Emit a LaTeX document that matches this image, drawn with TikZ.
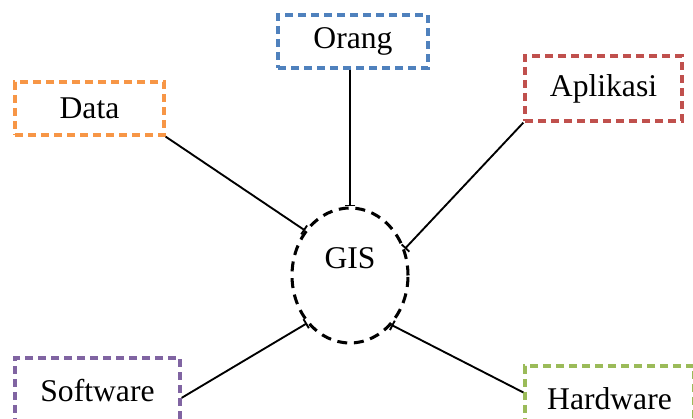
\documentclass[tikz,border=0pt]{standalone}
\usepackage{fontspec}
\setmainfont{Liberation Serif}
\usepackage{tikz}
\usetikzlibrary{shapes.geometric, arrows.meta}
\definecolor{orangB}{HTML}{4F81BD}
\definecolor{dataO}{HTML}{F79646}
\definecolor{aplR}{HTML}{C0504D}
\definecolor{softP}{HTML}{8064A2}
\definecolor{hardG}{HTML}{9BBB59}

\begin{document}
\begin{tikzpicture}[font=\fontsize{27}{32}\selectfont,
  compbox/.style={draw=#1, rectangle, line width=2.8pt,
    dash pattern=on 0.24cm off 0.15cm, inner sep=0pt},
  gisnode/.style={draw, ellipse, line width=2.6pt,
    dash pattern=on 0.3cm off 0.2cm, minimum width=3.48cm,
    minimum height=4.05cm, inner sep=0pt},
  link/.style={line width=1.6pt, -{Bar[width=9pt,line width=1.6pt]}}]
  \useasboundingbox (0,0) rectangle (20.79,12.57);
  % centre
  \node[gisnode] (gis) at (10.5,4.305) {};
  \node (gistext) at ([yshift=0.52cm]gis.center) {GIS};
  % components
  \node[compbox=orangB, minimum width=4.5cm, minimum height=1.59cm]
    (orang) at (10.59,11.325) {\raisebox{-2pt}{Orang}};
  \node[compbox=dataO, minimum width=4.47cm, minimum height=1.59cm]
    (data) at (2.685,9.315) {\raisebox{-2pt}{Data}};
  \node[compbox=aplR, minimum width=4.71cm, minimum height=1.95cm]
    (aplikasi) at (18.105,9.915) {Aplikasi};
  \node[compbox=softP, minimum width=4.95cm, minimum height=1.95cm]
    (software) at (2.925,0.855) {Software};
  \node[compbox=hardG, minimum width=5.07cm, minimum height=1.95cm]
    (hardware) at (18.285,0.615) {Hardware};
  % links to GIS
  \draw[link] (gis.90 |- orang.south) -- (gis.90);
  \draw[link] (data.south east) -- (gis.135);
  \draw[link] (aplikasi.south west) -- (gis.26);
  \draw[link] (software.-5) -- (gis.228);
  \draw[link] (hardware.176) -- (gis.310);
\end{tikzpicture}
\end{document}
